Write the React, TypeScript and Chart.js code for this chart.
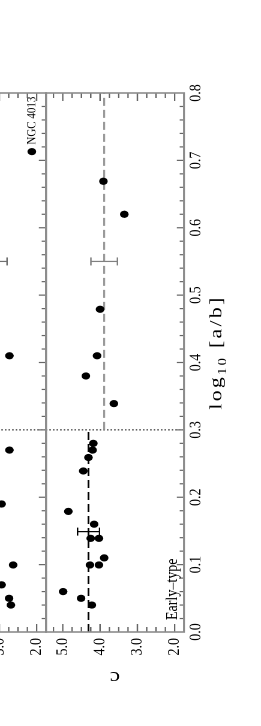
import { useEffect, useRef } from 'react';
import { Chart, registerables } from 'chart.js';

Chart.register(...registerables);

// ---------------- data ----------------
const xTicks = [0, 0.1, 0.2, 0.3, 0.4, 0.5, 0.6, 0.7, 0.8];
const cTicks = [2, 3, 4, 5];
const xRange = [0, 0.8];
const cRange = [1.75, 5.45];
const xMinorStep = 0.02;
const cMinorStep = 0.25;
const splitX = 0.3;

// lower (fully visible) panel
const lowX = [0.28, 0.27, 0.259, 0.239, 0.179, 0.16, 0.139, 0.139, 0.11, 0.0995, 0.0995, 0.06, 0.05, 0.04,
  0.669, 0.62, 0.479, 0.41, 0.38, 0.339];
const lowC = [4.18, 4.2, 4.31, 4.45, 4.85, 4.16, 4.25, 4.03, 3.89, 4.27, 4.03, 4.99, 4.51, 4.22,
  3.91, 3.35, 4.0, 4.08, 4.38, 3.63];
const lowMeanLeft = 4.31; // x < 0.3
const lowMeanRight = 3.89; // x > 0.3
const lowErrX = [0.149, 0.55];
const lowErrC = [4.31, 3.89];
const lowErrH = [0.295, 0.357];
const lowLabel = 'Early–type';

// upper panel (only partly visible)
const upX = [0.41, 0.27, 0.19, 0.0995, 0.07, 0.05, 0.04];
const upC = [2.73, 2.73, 2.94, 2.63, 2.94, 2.74, 2.69];
const noteX = [0.713];
const noteC = [2.13];
const noteText = ['NGC 4013'];
const upErrX = [0.55];
const upErrC = [3.15];
const upErrH = [0.355];

// ---------------- layout ----------------
const W = 726;
const H = 320;
const S = 1.2;
const OFF = 120;
const AREA_LEFT = 94;
const AREA_RIGHT = 633;
const UP_TOP = 23.33;
const MID = 138.33;
const LOW_BOTTOM = 253.33;
const Y_AXIS_W = 40;
const X_AXIS_H = 30;
const FONT = "'Liberation Serif', 'Times New Roman', serif";

function pts(xs: number[], cs: number[]) {
  return xs.map((x, i) => ({ x, y: cs[i] }));
}

function errDatasets(xs: number[], cs: number[], hs: number[], color: string) {
  return xs.map((x, i) => ({
    type: 'line' as const,
    data: [{ x, y: cs[i] - hs[i] }, { x, y: cs[i] + hs[i] }],
    borderColor: color,
    borderWidth: 1.2,
    pointStyle: 'line' as const,
    pointRadius: 4,
    pointBorderColor: color,
    pointBorderWidth: 1.2,
    pointHoverRadius: 4,
  }));
}

function lineDs(data: { x: number; y: number }[], color: string, dash: number[], width: number) {
  return {
    type: 'line' as const,
    data,
    borderColor: color,
    borderDash: dash,
    borderWidth: width,
    pointRadius: 0,
    pointHoverRadius: 0,
  };
}

function framePlugin(bottomTicks: boolean) {
  return {
    id: 'frame',
    afterDatasetsDraw(chart: any) {
      const { ctx, chartArea: a } = chart;
      const xs = chart.scales.x;
      const ys = chart.scales.y;
      ctx.save();
      ctx.strokeStyle = '#666';
      ctx.lineWidth = 1.2;
      ctx.beginPath();
      for (let i = 0; cTicks[0] + i * cMinorStep <= cRange[1] + 1e-9; i++) {
        const c = cTicks[0] + i * cMinorStep;
        const major = i % 4 === 0;
        const len = major ? 8 : 5;
        const py = ys.getPixelForValue(c);
        ctx.moveTo(a.left, py);
        ctx.lineTo(a.left + len, py);
        ctx.moveTo(a.right, py);
        ctx.lineTo(a.right - len, py);
      }
      if (bottomTicks) {
        const n = Math.round((xRange[1] - xRange[0]) / xMinorStep);
        for (let i = 1; i < n; i++) {
          const v = xRange[0] + i * xMinorStep;
          const major = i % 5 === 0;
          const len = major ? 6 : 3.6;
          const px = xs.getPixelForValue(v);
          ctx.moveTo(px, a.bottom);
          ctx.lineTo(px, a.bottom - len);
        }
      }
      ctx.stroke();
      ctx.strokeStyle = '#8c8c8c';
      ctx.lineWidth = 1.6;
      ctx.strokeRect(a.left, a.top, a.right - a.left, a.bottom - a.top);
      ctx.restore();
    },
  };
}

const lowerText = {
  id: 'lowerText',
  afterDraw(chart: any) {
    const { ctx, chartArea: a } = chart;
    ctx.save();
    ctx.fillStyle = '#000';
    // x title: log_10 [a/b]
    const big = `15px ${FONT}`;
    const small = `10px ${FONT}`;
    ctx.textBaseline = 'alphabetic';
    ctx.textAlign = 'left';
    const sp = 1.6;
    ctx.letterSpacing = `${sp}px`;
    ctx.font = big;
    const w1 = ctx.measureText('log').width;
    const w3 = ctx.measureText(' [a/b]').width;
    ctx.font = small;
    const w2 = ctx.measureText('10').width;
    const kx = 1.45;
    const total = (w1 + w2 + w3) * kx;
    const cx = (a.left + a.right) / 2 + 10;
    ctx.save();
    ctx.translate(cx - total / 2, a.bottom + 31);
    ctx.scale(kx, 1);
    ctx.font = big;
    ctx.fillText('log', 0, 0);
    ctx.font = small;
    ctx.fillText('10', w1, 4);
    ctx.font = big;
    ctx.fillText(' [a/b]', w1 + w2, 0);
    ctx.restore();
    ctx.letterSpacing = '0px';
    // y title
    ctx.save();
    ctx.translate(54, (a.top + a.bottom) / 2);
    ctx.rotate(-Math.PI / 2);
    ctx.font = `19px ${FONT}`;
    ctx.textAlign = 'center';
    ctx.textBaseline = 'alphabetic';
    ctx.fillText('c', 0, 0);
    ctx.restore();
    // panel label
    ctx.font = `14px ${FONT}`;
    ctx.textAlign = 'left';
    ctx.textBaseline = 'alphabetic';
    ctx.fillText(lowLabel, a.left + 12, a.bottom - 6);
    ctx.restore();
  },
};

const upperText = {
  id: 'upperText',
  afterDraw(chart: any) {
    const { ctx } = chart;
    const xs = chart.scales.x;
    const ys = chart.scales.y;
    ctx.save();
    ctx.fillStyle = '#000';
    ctx.font = `11px ${FONT}`;
    ctx.textAlign = 'left';
    ctx.textBaseline = 'middle';
    noteText.forEach((t, i) => {
      ctx.fillText(t, xs.getPixelForValue(noteX[i]) + 7, ys.getPixelForValue(noteC[i]));
    });
    ctx.restore();
  },
};

function scaleOpts(showX: boolean) {
  const tickFont = { family: FONT, size: 14 };
  return {
    x: {
      type: 'linear',
      min: xRange[0],
      max: xRange[1],
      display: showX,
      afterBuildTicks: (s: any) => {
        s.ticks = xTicks.map((v) => ({ value: v }));
      },
      ...(showX ? { afterFit: (s: any) => { s.height = X_AXIS_H; } } : {}),
      grid: { display: false, drawTicks: false },
      border: { display: false },
      ticks: {
        color: '#000',
        font: tickFont,
        padding: 1.5,
        maxRotation: 0,
        minRotation: 0,
        autoSkip: false,
        callback: (v: any) => Number(v).toFixed(1),
      },
    },
    y: {
      type: 'linear',
      min: cRange[0],
      max: cRange[1],
      afterBuildTicks: (s: any) => {
        s.ticks = cTicks.map((v) => ({ value: v }));
      },
      afterFit: (s: any) => {
        s.width = Y_AXIS_W;
      },
      grid: { display: false, drawTicks: false },
      border: { display: false },
      ticks: {
        color: '#000',
        font: tickFont,
        padding: 6,
        autoSkip: false,
        callback: (v: any) => Number(v).toFixed(1),
      },
    },
  };
}

const pointStyleOpts = {
  pointRadius: 3.6,
  pointHoverRadius: 3.6,
  backgroundColor: '#000',
  borderColor: '#000',
  borderWidth: 0,
};

function lowerConfig(): any {
  return {
    type: 'scatter',
    data: {
      datasets: [
        { data: pts(lowX, lowC), ...pointStyleOpts },
        ...errDatasets([lowErrX[0]], [lowErrC[0]], [lowErrH[0]], '#000'),
        ...errDatasets([lowErrX[1]], [lowErrC[1]], [lowErrH[1]], '#808080'),
        lineDs([{ x: xRange[0], y: lowMeanLeft }, { x: splitX, y: lowMeanLeft }], '#000', [8, 4], 1.4),
        lineDs([{ x: splitX, y: lowMeanRight }, { x: xRange[1], y: lowMeanRight }], '#9a9a9a', [8, 4], 1.6),
        lineDs([{ x: splitX, y: cRange[0] }, { x: splitX, y: cRange[1] }], '#000', [1.2, 1.8], 1),
      ],
    },
    options: {
      animation: false,
      responsive: false,
      maintainAspectRatio: false,
      devicePixelRatio: 2,
      events: [],
      layout: {
        padding: {
          left: AREA_LEFT - Y_AXIS_W,
          right: W - AREA_RIGHT,
          top: MID,
          bottom: H - LOW_BOTTOM - X_AXIS_H,
        },
      },
      plugins: { legend: { display: false }, tooltip: { enabled: false } },
      scales: scaleOpts(true),
    },
    plugins: [framePlugin(true), lowerText],
  };
}

function upperConfig(): any {
  return {
    type: 'scatter',
    data: {
      datasets: [
        { data: pts([...upX, ...noteX], [...upC, ...noteC]), ...pointStyleOpts },
        ...errDatasets(upErrX, upErrC, upErrH, '#707070'),
        lineDs([{ x: splitX, y: cRange[0] }, { x: splitX, y: cRange[1] }], '#000', [1.2, 1.8], 1),
      ],
    },
    options: {
      animation: false,
      responsive: false,
      maintainAspectRatio: false,
      devicePixelRatio: 2,
      events: [],
      layout: {
        padding: {
          left: AREA_LEFT - Y_AXIS_W,
          right: W - AREA_RIGHT,
          top: UP_TOP,
          bottom: H - MID,
        },
      },
      plugins: { legend: { display: false }, tooltip: { enabled: false } },
      scales: scaleOpts(false),
    },
    plugins: [framePlugin(true), upperText],
  };
}

export default function App() {
  const upRef = useRef<HTMLCanvasElement>(null);
  const lowRef = useRef<HTMLCanvasElement>(null);

  useEffect(() => {
    const charts = [
      new Chart(upRef.current as HTMLCanvasElement, upperConfig()),
      new Chart(lowRef.current as HTMLCanvasElement, lowerConfig()),
    ];
    return () => charts.forEach((c) => c.destroy());
  }, []);

  return (
    <div
      style={{
        position: 'fixed',
        left: 0,
        top: 0,
        width: 261,
        height: 726,
        overflow: 'hidden',
        background: '#fff',
      }}
    >
      <div
        style={{
          position: 'absolute',
          left: 0,
          top: 0,
          width: W,
          height: H,
          transformOrigin: '0 0',
          transform: `translate(${-OFF}px, ${W}px) rotate(-90deg) scale(1, ${S})`,
        }}
      >
        <canvas ref={upRef} width={W} height={H} style={{ position: 'absolute', left: 0, top: 0 }} />
        <canvas ref={lowRef} width={W} height={H} style={{ position: 'absolute', left: 0, top: 0 }} />
      </div>
    </div>
  );
}
